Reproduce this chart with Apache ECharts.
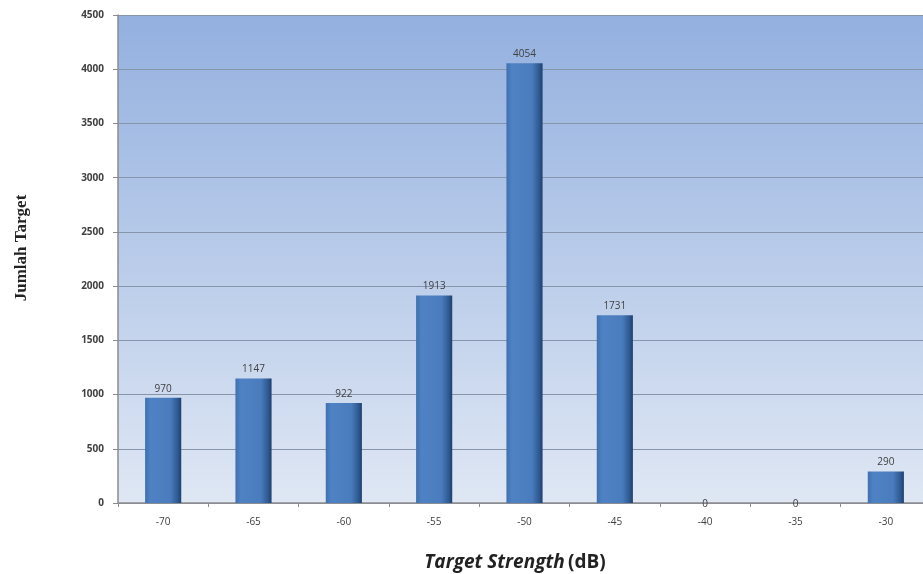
<!DOCTYPE html>
<html><head><meta charset="utf-8">
<script src="https://cdn.jsdelivr.net/npm/echarts@6/dist/echarts.min.js"></script>
<style>html,body{margin:0;padding:0;background:#fff;overflow:hidden;width:923px;height:574px}#c{width:950px;height:574px}</style>
</head><body><div id="c"></div>
<script>
const categories = ['-70','-65','-60','-55','-50','-45','-40','-35','-30'];
const counts = [970, 1147, 922, 1913, 4054, 1731, 0, 0, 290];
const yTicks = [0, 500, 1000, 1500, 2000, 2500, 3000, 3500, 4000, 4500];

const chart = echarts.init(document.getElementById('c'));
chart.setOption({
  animation: false,
  grid: { left: 118, top: 15, width: 813, height: 488, show: true, borderWidth: 0,
    backgroundColor: new echarts.graphic.LinearGradient(0,0,0,1,[{offset:0,color:'#93b0df'},{offset:1,color:'#dfe7f4'}]) },
  xAxis: {
    type: 'category', data: categories,
    axisLine: { lineStyle: { color: '#8c8c8c', width: 1.5 } },
    axisTick: { show: true, length: 4, lineStyle: { color: '#8c8c8c' } },
    axisLabel: { color: '#404040', fontSize: 10, fontFamily: 'Open Sans', margin: 14 }
  },
  yAxis: {
    type: 'value', min: 0, max: 4500, interval: 500,
    axisLine: { show: true, lineStyle: { color: '#8c8c8c', width: 1.5 } },
    axisTick: { show: true, length: 5, lineStyle: { color: '#8c8c8c' } },
    axisLabel: { color: '#404040', fontSize: 10, fontWeight: 'bold', fontFamily: 'Open Sans', margin: 14,
      formatter: v => yTicks.includes(v) ? String(v) : '' },
    splitLine: { lineStyle: { color: '#8795ab', width: 1 } }
  },
  series: [{
    type: 'bar', barWidth: '40%',
    data: counts.map(v => v === 0 ? { value: v, label: { distance: -6 } } : v),
    itemStyle: {
      color: new echarts.graphic.LinearGradient(0,0,1,0,[
        {offset:0,color:'#3f70b0'},{offset:0.15,color:'#4f82c4'},{offset:0.7,color:'#4a7cbd'},{offset:0.9,color:'#2f5a92'},{offset:1,color:'#1f3f6e'}])
    },
    label: { show: true, position: 'top', color: '#404040', fontSize: 10, fontFamily: 'Open Sans', distance: 4 }
  }],
  graphic: [
    { type: 'text', x: 22, y: 248, rotation: Math.PI/2,
      style: { text: 'Jumlah Target', font: 'bold 17px "Liberation Serif"', fill: '#222', textAlign: 'center', textVerticalAlign: 'middle' } },
    { type: 'text', x: 515, y: 563,
      style: { text: '{i|Target Strength} {n|(dB)}', textAlign: 'center', textVerticalAlign: 'middle',
        rich: { i: { font: 'italic bold 19px "Open Sans"', fill: '#222' }, n: { font: 'bold 19px "Open Sans"', fill: '#222' } } } }
  ]
});
</script></body></html>
